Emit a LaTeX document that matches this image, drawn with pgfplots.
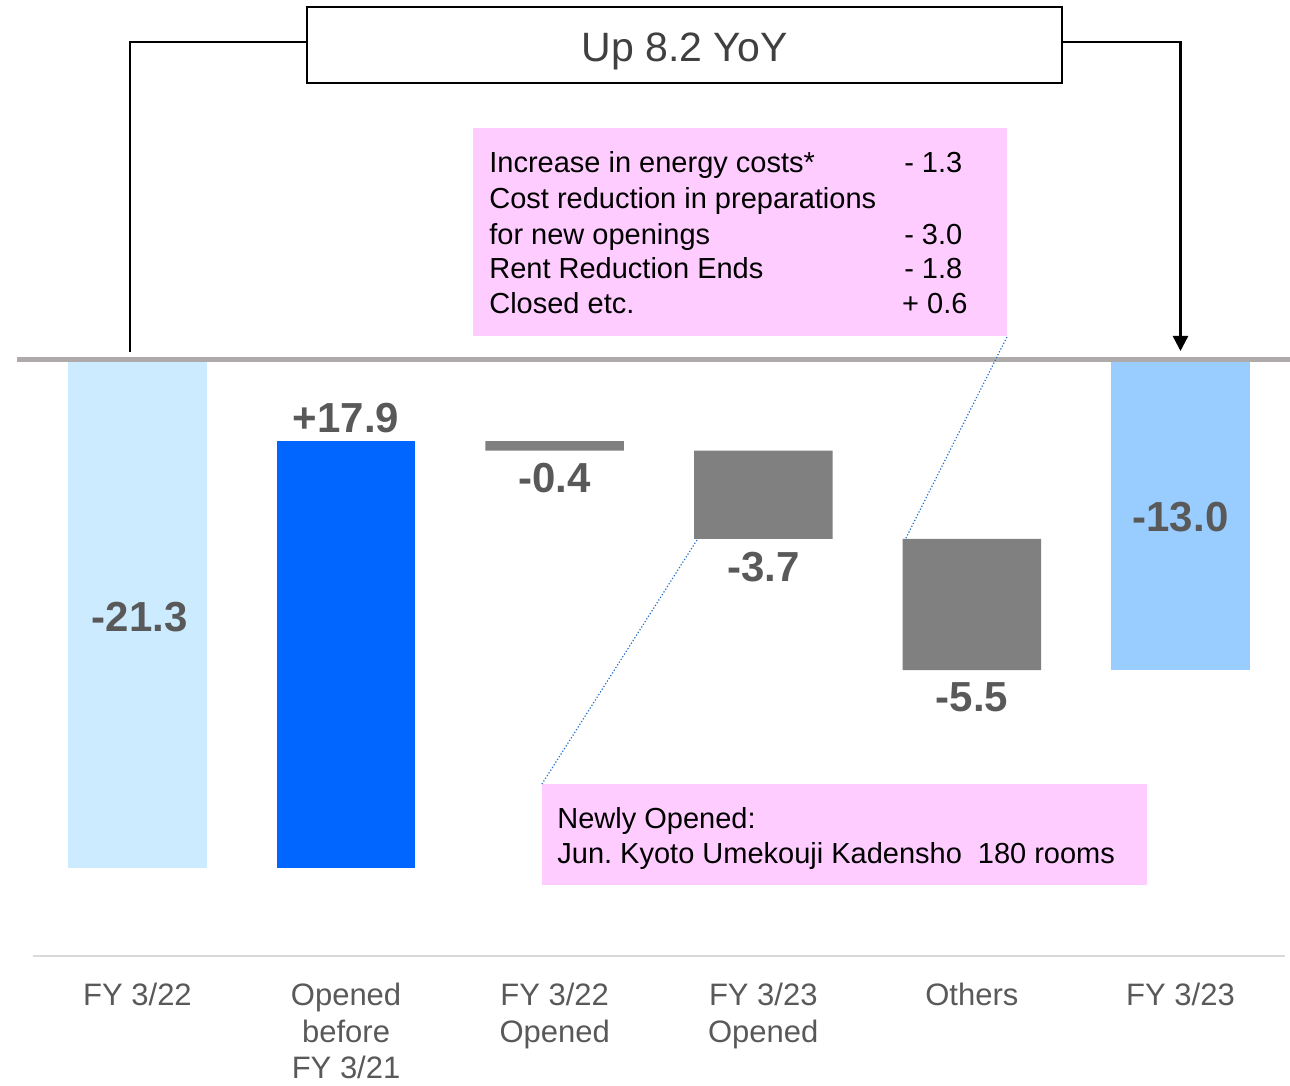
\documentclass[border=0pt]{standalone}
\usepackage{pgfplots}
\pgfplotsset{compat=1.18}
\usepackage{fontspec}
\setmainfont{Liberation Sans}
\usetikzlibrary{arrows.meta}

\definecolor{lb1}{HTML}{CCEBFF}
\definecolor{blue2}{HTML}{0066FF}
\definecolor{gbar}{HTML}{808080}
\definecolor{lb2}{HTML}{99CCFF}
\definecolor{pinkbox}{HTML}{FFCCFF}
\definecolor{zeroline}{HTML}{AEAAAA}
\definecolor{axisgray}{HTML}{D9D9D9}
\definecolor{labgray}{HTML}{595959}
\definecolor{dotblue}{HTML}{1F6FD0}
\definecolor{titlegray}{HTML}{404040}

\newcommand\barfont{\fontsize{21}{25}\selectfont\bfseries}
\newcommand\boxfont{\fontsize{14.5}{17.6}\selectfont}
\newcommand\tickfont{\fontsize{15.5}{18.3}\selectfont}
\newcommand\titlefont{\fontsize{20.5}{24}\selectfont}
\tikzset{
  barlab/.style={font=\barfont, text=labgray, inner sep=0pt},
  boxtxt/.style={font=\boxfont, text=black, inner sep=0pt, anchor=base west},
}

\begin{document}
\begin{tikzpicture}
\begin{axis}[
 scale only axis,
 width=625.8pt, height=477pt,
 xmin=-0.5, xmax=5.5, ymin=-25, ymax=15,
 ybar stacked, bar width=69.25pt,
 clip=false,
 axis y line=none,
 axis x line*=bottom,
 x axis line style={draw=axisgray, line width=1pt},
 xtick={0,1,2,3,4,5},
 xticklabels={FY 3/22, {Opened\\before\\FY 3/21}, {FY 3/22\\Opened}, {FY 3/23\\Opened}, Others, FY 3/23},
 xticklabel style={align=center, font=\tickfont, text=labgray, yshift=-10pt},
 ytick=\empty,
 major tick length=0pt,
]
\addplot[draw=none, fill=white, opacity=0] coordinates {(0,0) (1,-3.4) (2,-3.4) (3,-3.8) (4,-7.5) (5,0)};
\addplot[draw=none, fill=lb1] coordinates {(0,-21.3) (1,0) (2,0) (3,0) (4,0) (5,0)};
\addplot[draw=none, fill=blue2] coordinates {(0,0) (1,-17.9) (2,0) (3,0) (4,0) (5,0)};
\addplot[draw=none, fill=gbar] coordinates {(0,0) (1,0) (2,-0.4) (3,-3.7) (4,-5.5) (5,0)};
\addplot[draw=none, fill=lb2] coordinates {(0,0) (1,0) (2,0) (3,0) (4,0) (5,-13.0)};

% coordinates for annotations (drawn after the axis)
\coordinate (z0) at (axis cs:-0.578,0);
\coordinate (z1) at (axis cs:5.525,0);
\coordinate (l0) at (axis cs:0.01,-10.78);
\coordinate (l1) at (axis cs:1,-2.43);
\coordinate (l2) at (axis cs:2,-4.95);
\coordinate (l3) at (axis cs:3,-8.68);
\coordinate (l4) at (axis cs:4,-14.13);
\coordinate (l5) at (axis cs:5,-6.58);
\coordinate (bA) at (axis cs:-0.036,0.335);
\coordinate (bB) at (axis cs:-0.036,13.33);
\coordinate (bC) at (axis cs:0.813,13.33);
\coordinate (bD) at (axis cs:4.432,13.33);
\coordinate (bE) at (axis cs:5.0,13.33);
\coordinate (bF) at (axis cs:5.0,0.377);
\coordinate (tb0) at (axis cs:0.813,11.61);
\coordinate (tb1) at (axis cs:4.432,14.80);
\coordinate (tt) at (axis cs:2.623,12.92);
\coordinate (p0) at (axis cs:1.608,1.006);
\coordinate (p1) at (axis cs:4.168,9.73);
\coordinate (r1a) at (axis cs:1.685,7.84);
\coordinate (r1b) at (axis cs:3.674,7.84);
\coordinate (r2a) at (axis cs:1.685,6.37);
\coordinate (r3a) at (axis cs:1.685,4.86);
\coordinate (r3b) at (axis cs:3.674,4.86);
\coordinate (r4a) at (axis cs:1.685,3.40);
\coordinate (r4b) at (axis cs:3.674,3.40);
\coordinate (r5a) at (axis cs:1.685,1.93);
\coordinate (r5b) at (axis cs:3.664,1.93);
\coordinate (q0) at (axis cs:1.939,-17.78);
\coordinate (q1) at (axis cs:4.839,-22.01);
\coordinate (s1) at (axis cs:2.011,-19.66);
\coordinate (s2) at (axis cs:2.011,-21.13);
\coordinate (d1a) at (axis cs:4.168,0.964);
\coordinate (d1b) at (axis cs:3.679,-7.55);
\coordinate (d2a) at (axis cs:2.682,-7.55);
\coordinate (d2b) at (axis cs:1.939,-17.78);
\coordinate (bbsw) at (axis cs:-0.659,-30.40);
\coordinate (bbne) at (axis cs:5.525,15.094);
\end{axis}

\draw[zeroline, line width=2.5pt] (z0) -- (z1);

\node[barlab] at (l0) {-21.3};
\node[barlab] at (l1) {+17.9};
\node[barlab] at (l2) {-0.4};
\node[barlab] at (l3) {-3.7};
\node[barlab] at (l4) {-5.5};
\node[barlab] at (l5) {-13.0};

\draw[black, line width=1.2pt] (bA) -- (bB) -- (bC);
\draw[black, line width=1.2pt, -{Triangle[length=7.5pt,width=7.5pt]}] (bD) -- (bE) -- (bF);
\draw[black, line width=1.2pt, fill=white] (tb0) rectangle (tb1);
\node[font=\titlefont, text=titlegray] at (tt) {Up 8.2 YoY};

\fill[pinkbox] (p0) rectangle (p1);
\node[boxtxt] at (r1a) {Increase in energy costs*};
\node[boxtxt] at (r1b) {- 1.3};
\node[boxtxt] at (r2a) {Cost reduction in preparations};
\node[boxtxt] at (r3a) {for new openings};
\node[boxtxt] at (r3b) {- 3.0};
\node[boxtxt] at (r4a) {Rent Reduction Ends};
\node[boxtxt] at (r4b) {- 1.8};
\node[boxtxt] at (r5a) {Closed etc.};
\node[boxtxt] at (r5b) {+ 0.6};

\fill[pinkbox] (q0) rectangle (q1);
\node[boxtxt] at (s1) {Newly Opened:};
\node[boxtxt] at (s2) {Jun.\ Kyoto Umekouji Kadensho\hspace{0.55em}180 rooms};

\draw[dotblue, line width=0.6pt, densely dotted] (d1a) -- (d1b);
\draw[dotblue, line width=0.6pt, densely dotted] (d2a) -- (d2b);

\pgfresetboundingbox
\path[use as bounding box] (bbsw) rectangle (bbne);
\end{tikzpicture}
\end{document}
